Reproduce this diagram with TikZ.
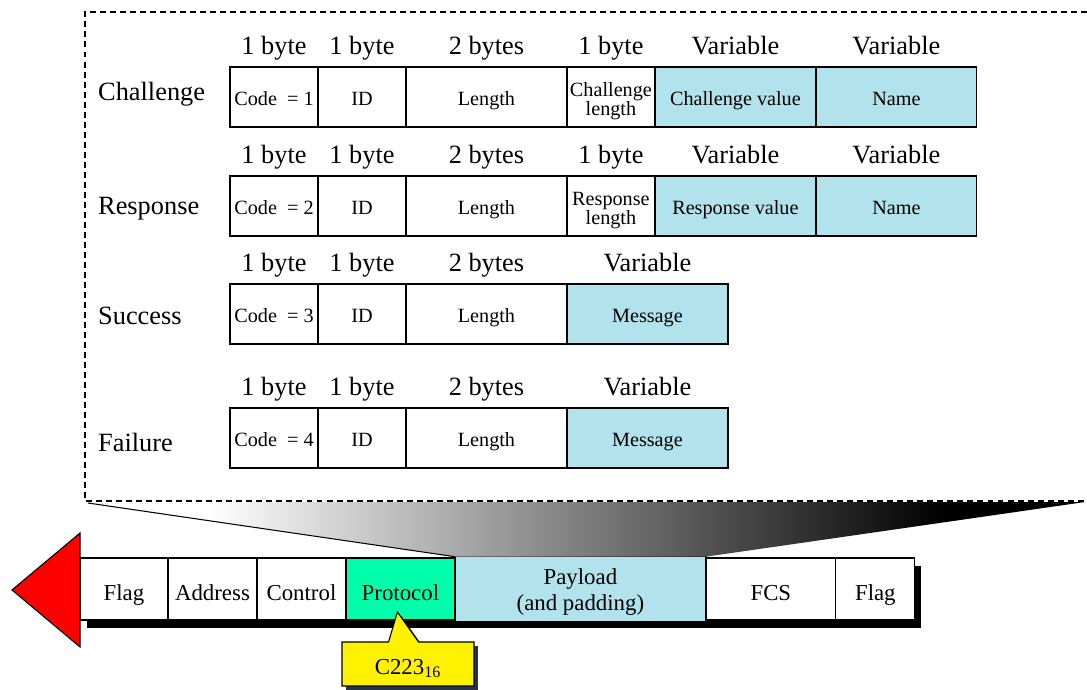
\documentclass[tikz,border=0pt]{standalone}
\usepackage{fontspec}
\setmainfont{Liberation Serif}
\usetikzlibrary{positioning,shapes.callouts,shadows,backgrounds}

\definecolor{paleblue}{RGB}{178,226,236}
\definecolor{mint}{RGB}{0,255,170}
\definecolor{slate}{RGB}{40,50,70}

% white on the left, black on the right
\pgfdeclarehorizontalshading{fade}{100bp}{color(0bp)=(white); color(31bp)=(white);
  color(68bp)=(black); color(100bp)=(black)}

\tikzset{
  cell/.style={draw, line width=0.7pt, outer sep=0pt, inner sep=1pt,
    minimum height=1.2cm, align=center, font=\fontsize{11.5}{11}\selectfont},
  field/.style={cell, text height=12.3pt, text depth=2.5pt},
  varfield/.style={field, fill=paleblue},
  narrow/.style={minimum width=1.76cm},
  wide/.style={minimum width=3.22cm},
  sizelabel/.style={text depth=3.3pt, font=\fontsize{15}{18}\selectfont},
  rowlabel/.style={anchor=west, font=\fontsize{15}{18}\selectfont},
  frame/.style={draw, line width=0.7pt, outer sep=0pt, fill=white,
    minimum height=1.24cm, align=center, font=\fontsize{13}{15}\selectfont},
  framecell/.style={frame, text height=16.2pt, text depth=3pt},
}

\begin{document}
\begin{tikzpicture}[x=0.02cm, y=-0.02cm]
  \useasboundingbox (0,0) rectangle (1087,689);

  % challenge and response packets
  \foreach \r/\y/\ly/\n/\kind in {ch/67/94/1/Challenge, rs/176/209/2/Response} {
    \node[rowlabel] (\r-label) at (92,\ly) {\kind};
    \node[field, narrow, anchor=north west] (\r code) at (230,\y) {Code~ = \n};
    \node[field, narrow, right=0pt of \r code] (\r id) {ID};
    \node[field, wide, right=0pt of \r id] (\r len) {Length};
    \node[cell, narrow, right=0pt of \r len] (\r klen) {\rule{0pt}{12.5pt}\kind\\length};
    \node[varfield, wide, right=0pt of \r klen] (\r val) {\kind{} value};
    \node[varfield, wide, right=0pt of \r val] (\r name) {Name};
    \foreach \f/\bytes in {code/1 byte, id/1 byte, len/2 bytes, klen/1 byte,
                           val/Variable, name/Variable}
      \node[sizelabel, above=0pt of \r\f] (\r\f-size) {\bytes};
  }

  % success and failure packets
  \foreach \r/\y/\ly/\n/\kind in {sc/284/316/3/Success, fl/408/442/4/Failure} {
    \node[rowlabel] (\r-label) at (92,\ly) {\kind};
    \node[field, narrow, anchor=north west] (\r code) at (230,\y) {Code~ = \n};
    \node[field, narrow, right=0pt of \r code] (\r id) {ID};
    \node[field, wide, right=0pt of \r id] (\r len) {Length};
    \node[varfield, wide, right=0pt of \r len] (\r msg) {Message};
    \foreach \f/\bytes in {code/1 byte, id/1 byte, len/2 bytes, msg/Variable}
      \node[sizelabel, above=0pt of \r\f] (\r\f-size) {\bytes};
  }

  % the frame
  \node[framecell, minimum width=1.76cm, anchor=north west] (flagl) at (80,558) {Flag};
  \node[framecell, minimum width=1.78cm, right=0pt of flagl] (addr) {Address};
  \node[framecell, minimum width=1.78cm, right=0pt of addr] (ctrl) {Control};
  \node[framecell, fill=mint, minimum width=2.18cm, right=0pt of ctrl] (proto) {Protocol};
  \node[frame, fill=paleblue, minimum width=5.02cm, right=0pt of proto] (payload)
    {\rule{0pt}{12.3pt}Payload\\(and padding)};
  \node[framecell, minimum width=2.6cm, right=0pt of payload] (fcs) {FCS};
  \node[framecell, minimum width=1.58cm, right=0pt of fcs] (flagr) {Flag};

  \begin{scope}[on background layer]
    \fill ([xshift=0.14cm, yshift=-0.16cm]flagl.north west)
      rectangle ([xshift=0.12cm, yshift=-0.16cm]flagr.south east);
  \end{scope}

  % direction arrow
  \draw[fill=red, line width=0.6pt] (flagl.west) ++(0,-56) -- ++(-68,57) -- ++(68,57) -- cycle;

  % dashed box round the packets
  \draw[line width=1.1pt, dash pattern=on 3.4pt off 2.3pt]
    (1087,12) -- (85,12) -- (85,501) -- (1087,501);

  % payload blown up
  \shade[shading=fade] (88,502) -- (1085,502) -- (payload.north east)
    -- (payload.north west) -- cycle;
  \draw[line width=0.6pt] (88,503) -- (payload.north west);

  % protocol value
  \node[rectangle callout, draw, fill=yellow, line width=0.6pt,
    minimum width=2.64cm, minimum height=0.88cm, text height=15pt, text depth=3pt,
    callout absolute pointer={([shift={(-3,-8)}]proto.south)},
    callout pointer width=0.6cm,
    drop shadow={shadow xshift=0.08cm, shadow yshift=-0.08cm, fill=slate, opacity=1},
    font=\fontsize{13}{15}\selectfont] (hexval) at (408,664) {C223\textsubscript{16}};
\end{tikzpicture}
\end{document}
